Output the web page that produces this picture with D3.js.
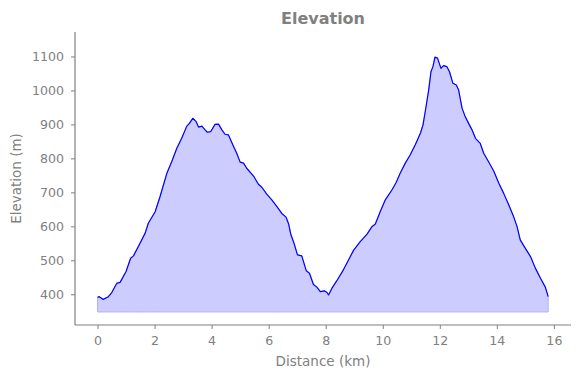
<!DOCTYPE html>
<html><head><meta charset="utf-8">
<script src="https://cdn.jsdelivr.net/npm/d3@7"></script>
<style>html,body{margin:0;padding:0;background:#fff;}svg{display:block;font-family:"DejaVu Sans",sans-serif;}</style>
</head><body>
<script>
const distanceKm = [0,0.06,0.2,0.38,0.5,0.67,0.79,1.0,1.16,1.26,1.49,1.67,1.78,2.02,2.19,2.43,2.6,2.78,2.95,3.13,3.22,3.34,3.46,3.54,3.66,3.77,3.85,3.97,4.12,4.24,4.36,4.47,4.59,4.77,4.88,5.0,5.12,5.23,5.47,5.64,5.76,5.94,6.11,6.29,6.46,6.61,6.7,6.78,6.89,7.01,7.16,7.32,7.43,7.57,7.69,7.81,7.95,8.04,8.1,8.22,8.39,8.62,8.8,8.98,9.21,9.45,9.62,9.74,9.91,10.09,10.32,10.47,10.61,10.79,10.96,11.14,11.32,11.41,11.49,11.61,11.69,11.76,11.83,11.92,12.04,12.13,12.25,12.34,12.46,12.58,12.66,12.78,12.89,13.01,13.13,13.25,13.42,13.54,13.71,13.89,14.07,14.24,14.42,14.59,14.71,14.82,15.0,15.18,15.35,15.53,15.7,15.8];
const elevationM = [391,393,385,393,405,432,435,467,506,513,550,580,609,643,687,756,790,830,859,895,903,918,908,892,895,884,877,879,900,901,884,871,869,835,815,789,786,771,748,724,715,694,678,658,638,627,607,575,550,516,513,469,462,429,421,408,410,406,398,418,440,472,501,530,555,577,599,607,643,678,707,729,756,786,810,840,874,898,938,1001,1055,1070,1098,1095,1065,1073,1070,1055,1021,1016,1001,948,923,903,884,859,844,815,790,763,727,697,663,628,599,560,535,511,477,447,421,393];
const baseline = 348;
const xTicks = [0,2,4,6,8,10,12,14,16];
const yTicks = [400,500,600,700,800,900,1000,1100];
const title = "Elevation";
const xLabel = "Distance (km)";
const yLabel = "Elevation (m)";

const W = 580, H = 378;
const L = 75, R = 571, T = 32, B = 325;
const grey = "#808080";
const data = distanceKm.map((d,i)=>({d, e: elevationM[i]}));

const svg = d3.select("body").append("svg").attr("width", W).attr("height", H);
const x = d3.scaleLinear().domain([-0.79, 16.6]).range([L, R]);
const y = d3.scaleLinear().domain([309.6, 1172]).range([B, T]);

const area = d3.area().x(p=>x(p.d)).y0(y(baseline)).y1(p=>y(p.e));
svg.append("path").datum(data).attr("d", area)
  .attr("fill", "#ccccff").attr("stroke", "#b3b3f5").attr("stroke-width", 1);
const line = d3.line().x(p=>x(p.d)).y(p=>y(p.e));
svg.append("path").datum(data).attr("d", line)
  .attr("fill", "none").attr("stroke", "#0000ff").attr("stroke-width", 1.2).attr("stroke-linejoin","round");

const xAxis = svg.append("g").attr("transform", `translate(0,${B})`)
  .call(d3.axisBottom(x).tickValues(xTicks).tickFormat(d3.format("d")).tickSize(4).tickPadding(7));
const yAxis = svg.append("g").attr("transform", `translate(${L},0)`)
  .call(d3.axisLeft(y).tickValues(yTicks).tickFormat(d3.format("d")).tickSize(4).tickPadding(7));
[xAxis, yAxis].forEach(g=>{
  g.select(".domain").attr("stroke", grey).attr("stroke-width", 1.2);
  g.selectAll(".tick line").attr("stroke", grey).attr("stroke-width", 1);
  g.selectAll(".tick text").attr("fill", grey).style("font-size", "12.6px").style("font-family", "DejaVu Sans");
});
xAxis.select(".domain").attr("d", `M${L},0H${R}`);
yAxis.select(".domain").attr("d", `M0,${B}V${T}`);

svg.append("text").attr("x", (L+R)/2).attr("y", 24).attr("text-anchor","middle")
  .attr("fill", grey).style("font-size","16px").style("font-weight","bold").text(title);
svg.append("text").attr("x", (L+R)/2).attr("y", 366).attr("text-anchor","middle")
  .attr("fill", grey).style("font-size","13.5px").text(xLabel);
svg.append("text").attr("transform", `translate(21,${(T+B)/2}) rotate(-90)`).attr("text-anchor","middle")
  .attr("fill", grey).style("font-size","13.5px").text(yLabel);
</script>
</body></html>
